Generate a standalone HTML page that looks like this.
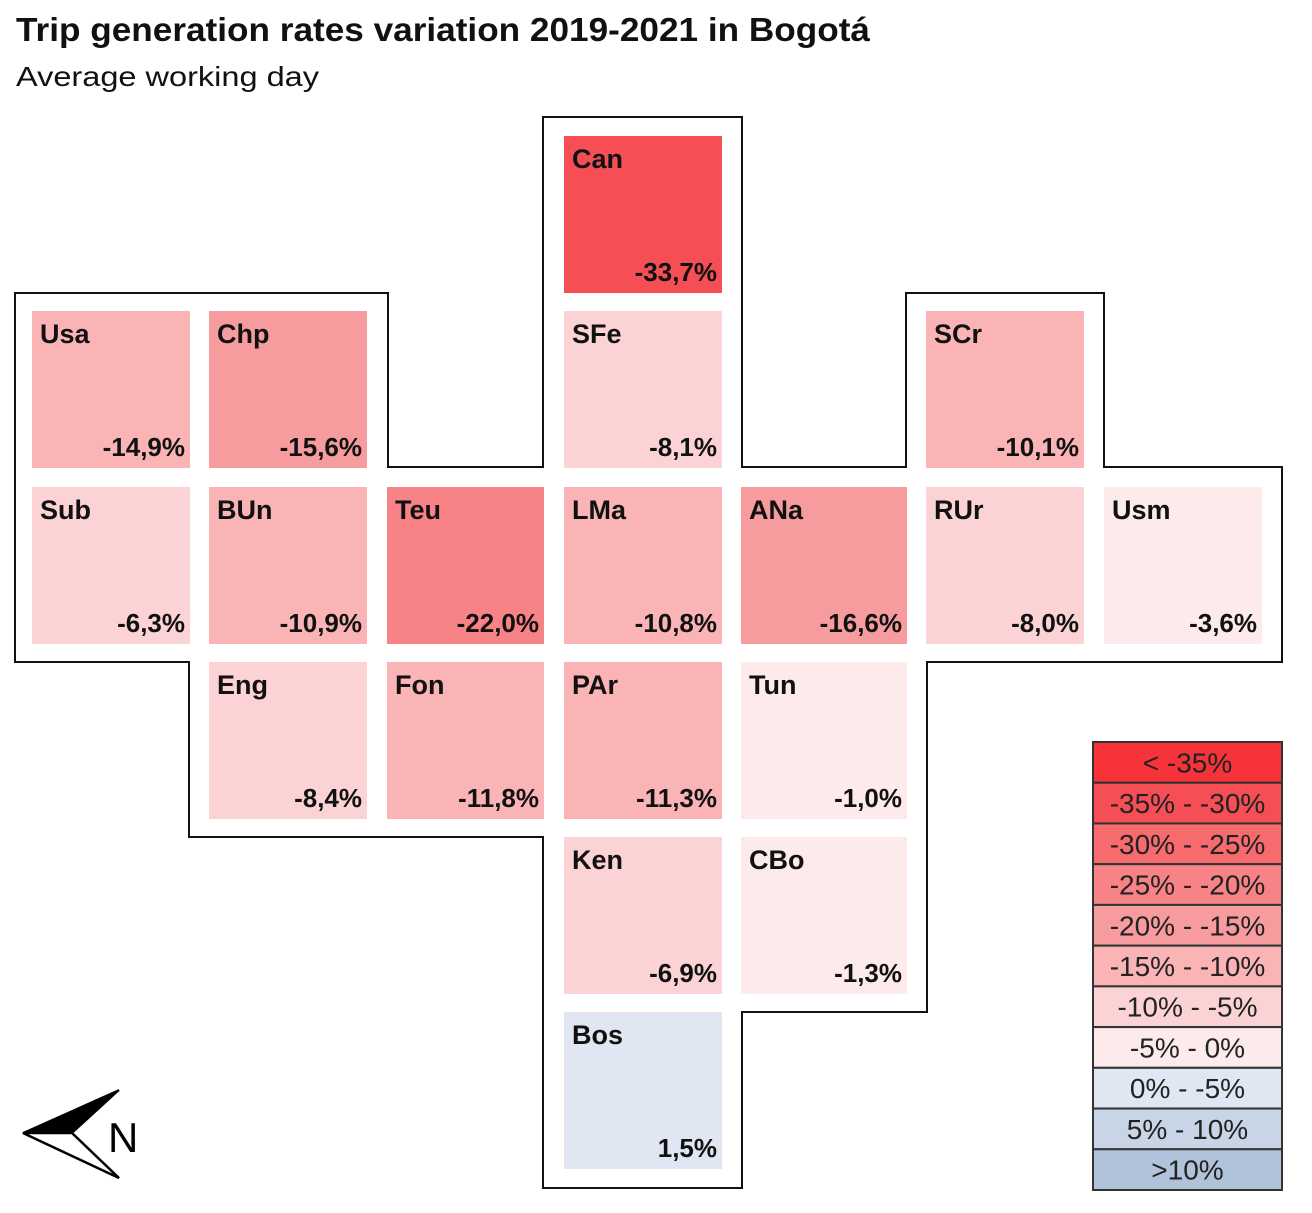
<!DOCTYPE html>
<html><head><meta charset="utf-8"><style>
body{margin:0;background:#fff;width:1312px;height:1208px;overflow:hidden;font-family:"Liberation Sans",sans-serif}
</style></head><body>
<svg width="1312" height="1208">
<text x="16" y="41" font-size="33" font-weight="bold" fill="#111" textLength="854" lengthAdjust="spacingAndGlyphs">Trip generation rates variation 2019-2021 in Bogotá</text>
<text x="16" y="86" font-size="28" fill="#111" textLength="303" lengthAdjust="spacingAndGlyphs">Average working day</text>
<polygon points="543,117 742,117 742,467 906,467 906,293 1104,293 1104,467 1282,467 1282,662 927,662 927,1012 742,1012 742,1188 543,1188 543,837 189,837 189,662 15,662 15,293 388,293 388,467 543,467" fill="none" stroke="#111" stroke-width="2"/>
<g id="tiles"></g>
<g id="legend"></g>
<g>
<polygon points="23,1133 119,1090 72,1133" fill="#000" stroke="#000" stroke-width="2"/>
<polygon points="23,1133 72,1133 119,1178" fill="none" stroke="#000" stroke-width="2.5"/>
<text x="108" y="1152" font-size="42" fill="#000">N</text>
</g>
</svg>
<script>
const codes=["Can","Usa","Chp","SFe","SCr","Sub","BUn","Teu","LMa","ANa","RUr","Usm","Eng","Fon","PAr","Tun","Ken","CBo","Bos"];
const values=[-33.7,-14.9,-15.6,-8.1,-10.1,-6.3,-10.9,-22.0,-10.8,-16.6,-8.0,-3.6,-8.4,-11.8,-11.3,-1.0,-6.9,-1.3,1.5];
const cols=[3,0,1,3,5,0,1,2,3,4,5,6,1,2,3,4,3,4,3];
const rows=[0,1,1,1,1,2,2,2,2,2,2,2,3,3,3,3,4,4,5];
const legendLabels=["< -35%","-35% - -30%","-30% - -25%","-25% - -20%","-20% - -15%","-15% - -10%","-10% - -5%","-5% - 0%","0% - -5%","5% - 10%",">10%"];
const binEdges=[-35,-30,-25,-20,-15,-10,-5,0,5,10];
const colors=["#f63338","#f54e55","#f76a6e","#f78387","#f79c9e","#fab4b6","#fbd3d4","#fdeaea","#e0e7f2","#c8d5e6","#b0c3db"];
const colX=[32,209,387,564,741,926,1104], colW=[158,158,157,158,166,158,158];
const rowY=[136,311,487,662,837,1012], rowH=157;
const NS="http://www.w3.org/2000/svg";
function binOf(v){let i=0;while(i<binEdges.length&&v>=binEdges[i])i++;return i;}
function fmt(v){return v.toFixed(1).replace('.',',')+'%';}
const tg=document.getElementById('tiles');
codes.forEach((c,i)=>{
 const x=colX[cols[i]],y=rowY[rows[i]],w=colW[cols[i]];
 const g=document.createElementNS(NS,'g');
 
 
 const r=document.createElementNS(NS,'rect');
 r.setAttribute('x',x);r.setAttribute('y',y);r.setAttribute('width',w);r.setAttribute('height',rowH);
 r.setAttribute('fill',colors[binOf(values[i])]);
 g.appendChild(r);
 const t=document.createElementNS(NS,'text');
 t.setAttribute('x',x+8);t.setAttribute('y',y+32);t.setAttribute('font-size','27');t.setAttribute('font-weight','bold');t.setAttribute('fill','#111');
 t.textContent=c;g.appendChild(t);
 const v=document.createElementNS(NS,'text');
 v.setAttribute('x',x+w-5);v.setAttribute('y',y+145);v.setAttribute('font-size','26');v.setAttribute('font-weight','bold');v.setAttribute('text-anchor','end');v.setAttribute('fill','#111');
 v.textContent=fmt(values[i]);g.appendChild(v);
 tg.appendChild(g);
});
const lg=document.getElementById('legend');
const lx=1093,ly=742,lw=189,lh=448/legendLabels.length;
legendLabels.forEach((l,i)=>{
 const g=document.createElementNS(NS,'g');
 
 
 const r=document.createElementNS(NS,'rect');
 r.setAttribute('x',lx);r.setAttribute('y',ly+i*lh);r.setAttribute('width',lw);r.setAttribute('height',lh);
 r.setAttribute('fill',colors[i]);r.setAttribute('stroke','#333');r.setAttribute('stroke-width','2');
 g.appendChild(r);
 const t=document.createElementNS(NS,'text');
 t.setAttribute('x',lx+lw/2);t.setAttribute('y',ly+i*lh+lh/2+10);t.setAttribute('font-size','28');t.setAttribute('text-anchor','middle');t.setAttribute('fill','#222');
 t.textContent=l;g.appendChild(t);
 lg.appendChild(g);
});
</script>
</body></html>
